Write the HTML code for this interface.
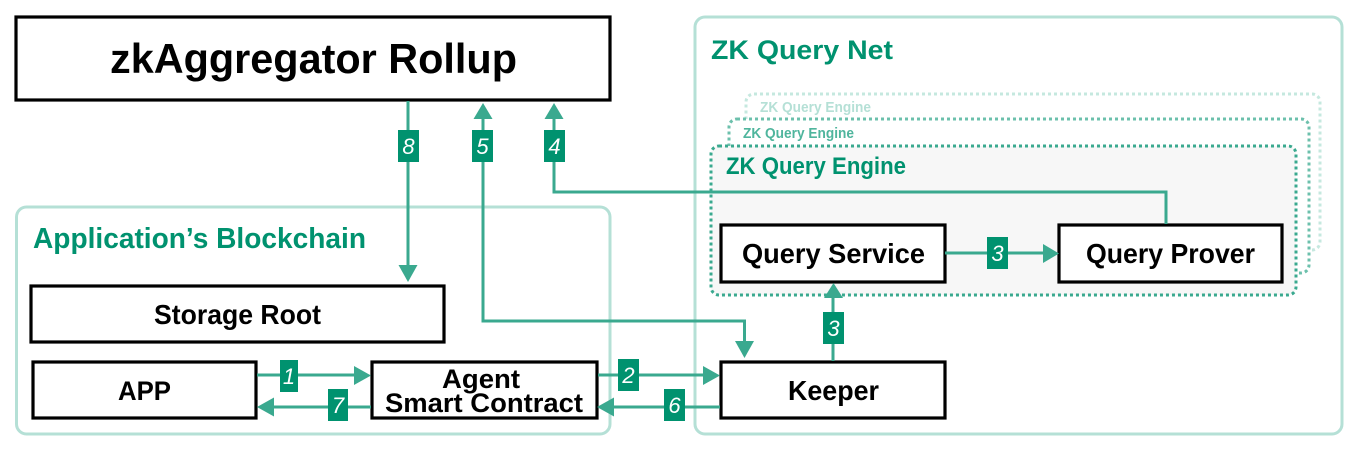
<!DOCTYPE html>
<html><head><meta charset="utf-8"><style>
html,body{margin:0;padding:0;background:#fff}
svg{display:block}
text{font-family:"Liberation Sans",sans-serif;font-weight:700}
.k{fill:#000;text-anchor:start}
.g{fill:#00926f}
.b{fill:#fff;stroke:#000;stroke-width:3.200}
.l{fill:none;stroke:#3aa98f;stroke-width:3}
.h{fill:#3aa98f}
.n{fill:#00926f}
.t{fill:#fff;font-style:italic;font-weight:400;font-size:22px;text-anchor:middle}
</style></head><body>
<svg width="1368" height="460" viewBox="0 0 1368 460" xmlns="http://www.w3.org/2000/svg">
<rect width="1368" height="460" fill="#fff"/>
<rect x="16.500" y="207" width="593.500" height="227" rx="10" fill="#fff" stroke="#b5e0d6" stroke-width="3"/>
<rect x="695" y="17" width="647" height="417" rx="10" fill="#fff" stroke="#b5e0d6" stroke-width="3"/>
<rect class="b" x="16" y="17" width="594" height="83"/>
<text class="k" x="110" y="73" font-size="42" textLength="407" lengthAdjust="spacingAndGlyphs">zkAggregator Rollup</text>
<text class="g" x="711" y="59" font-size="27" textLength="182" lengthAdjust="spacingAndGlyphs">ZK Query Net</text>
<text class="g" x="33" y="248" font-size="29" textLength="333" lengthAdjust="spacingAndGlyphs">Application’s Blockchain</text>
<rect x="746" y="94" width="574" height="156" rx="8" fill="#fff" stroke="#c5e8df" stroke-width="3" stroke-dasharray="3 3"/>
<text x="760" y="112" font-size="14.500" fill="#b5e0d6" textLength="111" lengthAdjust="spacingAndGlyphs">ZK Query Engine</text>
<rect x="729" y="119" width="580" height="154" rx="8" fill="#fff" stroke="#6cc0ac" stroke-width="3" stroke-dasharray="3 3"/>
<text x="743" y="138" font-size="14.500" fill="#4fb59d" textLength="111" lengthAdjust="spacingAndGlyphs">ZK Query Engine</text>
<rect x="711" y="146" width="585" height="149" rx="8" fill="#f7f7f7" stroke="#3aa98f" stroke-width="3" stroke-dasharray="3 3"/>
<text class="g" x="726" y="174" font-size="24" textLength="180" lengthAdjust="spacingAndGlyphs">ZK Query Engine</text>
<rect class="b" x="31" y="286" width="413" height="56"/>
<text class="k" x="154" y="324" font-size="28" textLength="167" lengthAdjust="spacingAndGlyphs">Storage Root</text>
<rect class="b" x="33" y="362" width="223" height="56"/>
<text class="k" x="118" y="400" font-size="27" textLength="53" lengthAdjust="spacingAndGlyphs">APP</text>
<rect class="b" x="372" y="362" width="225" height="56"/>
<text class="k" x="442" y="388" font-size="27" textLength="78" lengthAdjust="spacingAndGlyphs">Agent</text>
<text class="k" x="385" y="412" font-size="27" textLength="198" lengthAdjust="spacingAndGlyphs">Smart Contract</text>
<rect class="b" x="721" y="362" width="224" height="56"/>
<text class="k" x="788" y="400" font-size="28" textLength="91" lengthAdjust="spacingAndGlyphs">Keeper</text>
<rect class="b" x="721" y="225" width="224" height="57"/>
<text class="k" x="742" y="263" font-size="28" textLength="183" lengthAdjust="spacingAndGlyphs">Query Service</text>
<rect class="b" x="1059" y="225" width="223" height="57"/>
<text class="k" x="1086" y="263" font-size="28" textLength="169" lengthAdjust="spacingAndGlyphs">Query Prover</text>
<path class="l" d="M408 101V266"/><path class="h" d="M398.500 265H417.500L408 282Z"/>
<path class="l" d="M483 118V321H744.500V341"/><path class="h" d="M473.500 119H492.500L483 103Z"/><path class="h" d="M735 341H754L744.500 358Z"/>
<path class="l" d="M1166 224V192H554V118"/><path class="h" d="M544.500 119H563.500L554 103Z"/>
<path class="l" d="M945 253H1044"/><path class="h" d="M1043 244V263L1059 253.500Z"/>
<path class="l" d="M833 361V298"/><path class="h" d="M824 298H843L833.500 283Z"/>
<path class="l" d="M257 375H356"/><path class="h" d="M354 366V385L371 375.500Z"/>
<path class="l" d="M371 407H272"/><path class="h" d="M274 397.500V416.500L257 407Z"/>
<path class="l" d="M598 375H705"/><path class="h" d="M703 366V385L720 375.500Z"/>
<path class="l" d="M720 407H612"/><path class="h" d="M614 397.500V416.500L597 407Z"/>
<rect class="n" x="398" y="130" width="21" height="32"/><text class="t" x="408.500" y="154">8</text>
<rect class="n" x="472" y="130" width="21" height="32"/><text class="t" x="482.500" y="154">5</text>
<rect class="n" x="544" y="130" width="21" height="32"/><text class="t" x="554.500" y="154">4</text>
<rect class="n" x="987" y="237" width="21" height="32"/><text class="t" x="997.500" y="261">3</text>
<rect class="n" x="823" y="312" width="21" height="32"/><text class="t" x="833.500" y="336">3</text>
<rect class="n" x="280" y="360" width="18" height="32"/><text class="t" x="289" y="384">1</text>
<rect class="n" x="328" y="389" width="20" height="32"/><text class="t" x="338" y="413">7</text>
<rect class="n" x="618" y="359" width="21" height="32"/><text class="t" x="628.500" y="383">2</text>
<rect class="n" x="664" y="389" width="21" height="32"/><text class="t" x="674.500" y="413">6</text>
</svg>
</body></html>
